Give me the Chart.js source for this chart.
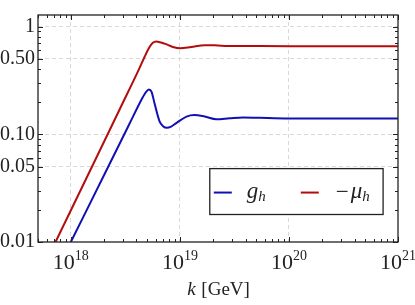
<!DOCTYPE html>
<html><head><meta charset="utf-8">
<script src="https://cdn.jsdelivr.net/npm/chart.js@4/dist/chart.umd.min.js"></script>
<style>html,body{margin:0;padding:0;background:#fff;}#wrap{width:415px;height:305px;position:relative;}</style>
</head><body><div id="wrap"><canvas id="c"></canvas></div>
<script>
// ---- data ----
const kBlue = [1e18, 2.26e18, 3.46e18, 4.58e18, 4.90e18, 5.20e18, 5.50e18, 5.86e18, 6.51e18, 7.01e18, 7.60e18, 8.22e18, 9.27e18, 1.15e19, 1.36e19, 1.69e19, 2.16e19, 2.86e19, 3.79e19, 5.38e19, 1e20, 1e21];
const gH    = [0.0100, 0.0527, 0.126, 0.222, 0.248, 0.260, 0.248, 0.193, 0.132, 0.119, 0.115, 0.117, 0.127, 0.146, 0.151, 0.146, 0.138, 0.141, 0.1435, 0.142, 0.140, 0.140];
const kRed  = [7.24e17, 1.83e18, 2.80e18, 4.21e18, 4.74e18, 5.27e18, 5.65e18, 6.07e18, 7.24e18, 8.63e18, 1.01e19, 1.27e19, 1.69e19, 2.08e19, 2.74e19, 3.93e19, 1e20, 1e21];
const muH   = [0.0100, 0.0695, 0.170, 0.400, 0.522, 0.645, 0.708, 0.728, 0.694, 0.647, 0.630, 0.647, 0.670, 0.670, 0.660, 0.659, 0.658, 0.658];

const xMajor = [1e18, 1e19, 1e20, 1e21];
const xMajorExp = ['18', '19', '20', '21'];
const yMajor = [0.01, 0.05, 0.1, 0.5, 1];
const yMajorLabels = ['0.01', '0.05', '0.10', '0.50', '1'];
const xRange = [5e17, 1e21];
const yRange = [0.01, 1.28];
const legendItems = [
  {minus: false, main: 'g', sub: 'h', color: '#1010b4'},
  {minus: true, main: '\u03bc', sub: 'h', color: '#b40c0c'}
];
const xTitleVar = 'k';
const xTitleUnit = ' [GeV]';

const SERIF = '"Liberation Serif", "DejaVu Serif", serif';
const INK = '#222';

function logMinors(min, max) {
  const out = [];
  const e0 = Math.floor(Math.log10(min)) - 1, e1 = Math.ceil(Math.log10(max)) + 1;
  for (let e = e0; e <= e1; e++) for (let m = 1; m < 10; m++) {
    const v = m * Math.pow(10, e);
    if (v >= min * 0.99999 && v <= max * 1.00001) out.push(v);
  }
  return out;
}
const isMajor = (arr, v) => arr.some(a => Math.abs(a - v) / a < 1e-6);

const decor = {
  id: 'decor',
  afterDatasetsDraw(chart) {
    const {ctx, chartArea: a, scales: {x, y}} = chart;
    ctx.save();
    ctx.strokeStyle = INK;
    ctx.lineWidth = 1;
    logMinors(xRange[0], xRange[1]).forEach(v => {
      const p = Math.round(x.getPixelForValue(v)) + 0.5;
      const len = isMajor(xMajor, v) ? 5 : 3;
      ctx.beginPath();
      ctx.moveTo(p, a.bottom); ctx.lineTo(p, a.bottom - len);
      ctx.moveTo(p, a.top); ctx.lineTo(p, a.top + len);
      ctx.stroke();
    });
    logMinors(yRange[0], yRange[1]).forEach(v => {
      const p = Math.round(y.getPixelForValue(v)) + 0.5;
      const len = isMajor(yMajor, v) ? 5 : 3;
      ctx.beginPath();
      ctx.moveTo(a.left, p); ctx.lineTo(a.left + len, p);
      ctx.moveTo(a.right, p); ctx.lineTo(a.right - len, p);
      ctx.stroke();
    });
    ctx.lineWidth = 1.3;
    ctx.strokeRect(a.left, a.top, a.right - a.left, a.bottom - a.top);

    ctx.fillStyle = INK;
    ctx.textBaseline = 'alphabetic';
    ctx.textAlign = 'left';
    xMajor.forEach((v, i) => {
      const px = x.getPixelForValue(v);
      ctx.font = '22px ' + SERIF;
      const wb = ctx.measureText('10').width;
      ctx.font = '14px ' + SERIF;
      const ws = ctx.measureText(xMajorExp[i]).width;
      const x0 = px - (wb + ws) / 2;
      ctx.font = '22px ' + SERIF;
      ctx.fillText('10', x0, 269);
      ctx.font = '14px ' + SERIF;
      ctx.fillText(xMajorExp[i], x0 + wb, 260);
    });
    ctx.font = 'italic 19px ' + SERIF;
    const wv = ctx.measureText(xTitleVar).width;
    ctx.font = '19px ' + SERIF;
    const wu = ctx.measureText(xTitleUnit).width;
    const cx = (a.left + a.right) / 2;
    let tx = cx - (wv + wu) / 2;
    ctx.font = 'italic 19px ' + SERIF;
    ctx.fillText(xTitleVar, tx, 295);
    ctx.font = '19px ' + SERIF;
    ctx.fillText(xTitleUnit, tx + wv + 1, 295);

    // legend
    const bx = x.getPixelForValue(1.88e19), bx2 = x.getPixelForValue(7.3e20);
    const by = y.getPixelForValue(0.048), by2 = y.getPixelForValue(0.018);
    ctx.fillStyle = '#fff';
    ctx.fillRect(bx, by, bx2 - bx, by2 - by);
    ctx.lineWidth = 1.3;
    ctx.strokeStyle = INK;
    ctx.strokeRect(bx, by, bx2 - bx, by2 - by);
    const cy = (by + by2) / 2;
    const lineStarts = [4, 91];
    const textStarts = [37, 126];
    legendItems.forEach((it, i) => {
      const lx = bx + lineStarts[i];
      ctx.strokeStyle = it.color;
      ctx.lineWidth = 2;
      ctx.beginPath(); ctx.moveTo(lx, cy + 1); ctx.lineTo(lx + 18, cy + 1); ctx.stroke();
      let t = bx + textStarts[i];
      ctx.fillStyle = INK;
      if (it.minus) {
        ctx.font = '23px ' + SERIF;
        ctx.fillText('\u2212', t, cy + 7);
        t += ctx.measureText('\u2212').width + 2;
      }
      ctx.font = 'italic 23px ' + SERIF;
      ctx.fillText(it.main, t, cy + 6);
      t += ctx.measureText(it.main).width;
      ctx.font = 'italic 15px ' + SERIF;
      ctx.fillText(it.sub, t, cy + 9);
    });
    ctx.restore();
  }
};

function draw() {
  new Chart(document.getElementById('c'), {
    type: 'line',
    data: {
      datasets: [
        {label: 'g_h', data: kBlue.map((k, i) => ({x: k, y: gH[i]})), borderColor: legendItems[0].color, borderWidth: 2, pointRadius: 0, cubicInterpolationMode: 'monotone', fill: false},
        {label: '-mu_h', data: kRed.map((k, i) => ({x: k, y: muH[i]})), borderColor: legendItems[1].color, borderWidth: 2, pointRadius: 0, cubicInterpolationMode: 'monotone', fill: false}
      ]
    },
    options: {
      responsive: true, maintainAspectRatio: false, animation: false,
      devicePixelRatio: 1,
      layout: {padding: {left: 0, right: 17, top: 9, bottom: 0}},
      plugins: {legend: {display: false}, tooltip: {enabled: false}},
      scales: {
        x: {
          type: 'logarithmic', min: xRange[0], max: xRange[1],
          afterBuildTicks: s => { s.ticks = xMajor.map(v => ({value: v, major: true})); },
          afterFit: s => { s.height = 63; },
          ticks: {display: false},
          grid: {drawTicks: false, lineWidth: 1, color: c => (c.tick && (c.tick.value >= xRange[1] * 0.999)) ? 'rgba(0,0,0,0)' : '#d9d9d9'},
          border: {display: false, dash: [4, 3]}
        },
        y: {
          type: 'logarithmic', min: yRange[0], max: yRange[1],
          afterBuildTicks: s => { s.ticks = yMajor.map(v => ({value: v, major: true})); },
          afterFit: s => { s.width = 38; },
          ticks: {
            padding: 3, color: INK, font: {family: SERIF, size: 20},
            callback: (v) => { const i = yMajor.findIndex(m => Math.abs(m - v) / m < 1e-6); return i >= 0 ? yMajorLabels[i] : ''; }
          },
          grid: {drawTicks: false, lineWidth: 1, color: c => (c.tick && (c.tick.value <= yRange[0] * 1.001)) ? 'rgba(0,0,0,0)' : '#d9d9d9'},
          border: {display: false, dash: [4, 3]}
        }
      }
    },
    plugins: [decor]
  });
}
const fontLoads = ['20px "Liberation Serif"', 'italic 20px "Liberation Serif"'].map(f => document.fonts.load(f));
Promise.all(fontLoads).then(draw, draw);
</script>
</body></html>
